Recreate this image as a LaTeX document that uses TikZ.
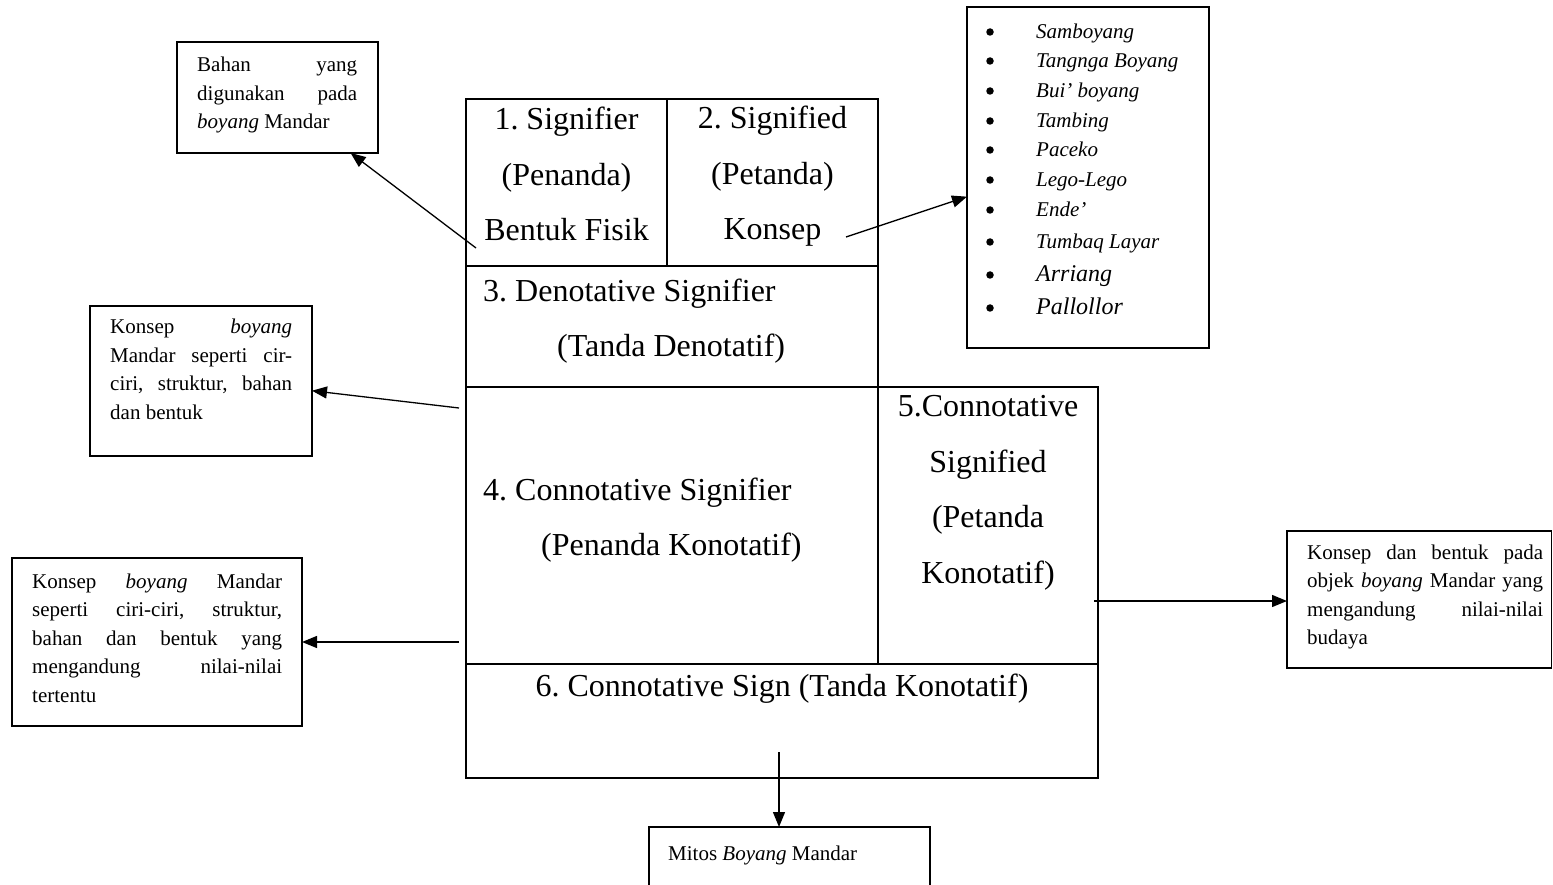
\documentclass[tikz,border=0pt]{standalone}
\usepackage{fontspec}
\setmainfont{Liberation Serif}
\usetikzlibrary{arrows.meta}

\newcommand{\jl}[1]{\makebox[\hsize][s]{#1}\par}
\frenchspacing

\begin{document}
\begin{tikzpicture}[x=1pt,y=-1pt,
    cell/.style={draw,line width=1.5pt,inner sep=0pt,outer sep=0pt,anchor=north west},
    big/.style={font=\fontsize{32}{55.5}\selectfont,inner sep=0pt},
    note/.style={font=\fontsize{21}{28.5}\selectfont,inner sep=0pt,anchor=base west,text width=#1,align=justify},
    dotmark/.style={circle,fill,inner sep=0pt,minimum size=7.5pt},
    arr/.style={line width=1.3pt,-{Triangle[length=15pt,width=12pt]}}]
  \useasboundingbox (0,0) rectangle (1553,885);
  \clip (0,0) rectangle (1553,885);

  % main table
  \node[cell,minimum width=201pt,minimum height=167pt] (sig) at (466,99) {};
  \node[cell,minimum width=211pt,minimum height=167pt] (sigd) at (667,99) {};
  \node[cell,minimum width=412pt,minimum height=121pt] (den) at (466,266) {};
  \node[cell,minimum width=412pt,minimum height=277pt] (con) at (466,387) {};
  \node[cell,minimum width=220pt,minimum height=277pt] (cond) at (878,387) {};
  \node[cell,minimum width=632pt,minimum height=114pt] (sign) at (466,664) {};

  \node[big,align=center] (l1) at (566.5,174) {1. Signifier\\(Penanda)\\Bentuk Fisik};
  \node[big,align=center] (l2) at (772.5,176.5) {2. Signified\\(Petanda)\\Konsep};
  \node[big,align=left,anchor=west] (l3) at (483,321) {3. Denotative Signifier\\\hspace*{74pt}(Tanda Denotatif)};
  \node[big,align=left,anchor=west] (l4) at (483,520) {4. Connotative Signifier\\\hspace*{58pt}(Penanda Konotatif)};
  \node[big,align=center] (l5) at (988,493) {5.Connotative\\Signified\\(Petanda\\Konotatif)};
  \node[big] (l6) at (782,689) {6. Connotative Sign (Tanda Konotatif)};

  % side boxes
  \node[cell,minimum width=201pt,minimum height=111pt] (bahan) at (177,42) {};
  \node[note=160pt] (tbahan) at (197,72) {\jl{Bahan yang}\jl{digunakan pada}\textit{boyang} Mandar};

  \node[cell,minimum width=242pt,minimum height=341pt] (list) at (967,7) {};
  \foreach \txt/\yy/\sz [count=\i] in {Samboyang/39/21,Tangnga Boyang/68/21,Bui’ boyang/98/21,
      Tambing/128/21,Paceko/157/21,Lego-Lego/187/21,Ende’/217/21,Tumbaq Layar/249/21,
      Arriang/282/24,Pallollor/315/24}
  {
    \node[dotmark] (dot\i) at (990,\yy-7) {};
    \node[anchor=base west,inner sep=0pt,font=\fontsize{\sz}{\sz}\selectfont\itshape] (it\i) at (1036,\yy) {\txt};
  }

  \node[cell,minimum width=222pt,minimum height=150pt] (konsepA) at (90,306) {};
  \node[note=182pt] (tkonsepA) at (110,334) {\jl{Konsep \textit{boyang}}\jl{Mandar seperti cir-}\jl{ciri, struktur, bahan}dan bentuk};

  \node[cell,minimum width=290pt,minimum height=168pt] (konsepB) at (12,558) {};
  \node[note=250pt] (tkonsepB) at (32,588) {\jl{Konsep \textit{boyang} Mandar}\jl{seperti ciri-ciri, struktur,}\jl{bahan dan bentuk yang}\jl{mengandung nilai-nilai}tertentu};

  \node[cell,minimum width=264.5pt,minimum height=137pt] (konsepC) at (1287,531) {};
  \node[note=236pt] (tkonsepC) at (1307,559) {\jl{Konsep dan bentuk pada}\jl{objek \textit{boyang} Mandar yang}\jl{mengandung nilai-nilai}budaya};

  \node[cell,minimum width=281pt,minimum height=120pt] (mitos) at (649,827) {};
  \node[note=250pt] (tmitos) at (668,860) {Mitos \textit{Boyang} Mandar};

  % arrows
  \coordinate (t1) at (476,248);
  \coordinate (t2) at (846,237);
  \coordinate (t3) at (459,408);
  \coordinate (t4) at (459,642);
  \coordinate (t5) at (1094,601);
  \coordinate (t6) at (779,752);

  \draw[arr] (t1) -- (bahan);
  \draw[arr] (t2) -- (list.189);
  \draw[arr] (t3) -- (konsepA.-5);
  \draw[arr] (t4) -- (konsepB.east);
  \draw[arr] (t5) -- (t5 -| konsepC.west);
  \draw[arr] (t6) -- (t6 |- mitos.north);
\end{tikzpicture}
\end{document}
